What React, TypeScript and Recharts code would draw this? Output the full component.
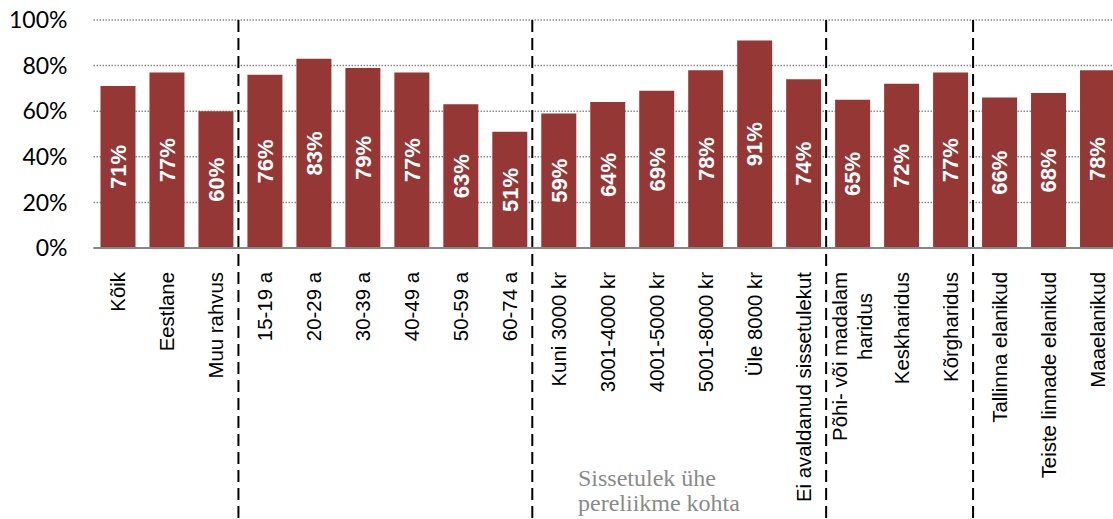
import { BarChart, Bar, XAxis, YAxis, CartesianGrid, ReferenceLine, LabelList } from "recharts";

const categories = [
  "Kõik",
  "Eestlane",
  "Muu rahvus",
  "15-19 a",
  "20-29 a",
  "30-39 a",
  "40-49 a",
  "50-59 a",
  "60-74 a",
  "Kuni 3000 kr",
  "3001-4000 kr",
  "4001-5000 kr",
  "5001-8000 kr",
  "Üle 8000 kr",
  "Ei avaldanud sissetulekut",
  "Põhi- või madalam\nharidus",
  "Keskharidus",
  "Kõrgharidus",
  "Tallinna elanikud",
  "Teiste linnade elanikud",
  "Maaelanikud",
];
const shares = [71, 77, 60, 76, 83, 79, 77, 63, 51, 59, 64, 69, 78, 91, 74, 65, 72, 77, 66, 68, 78];
// last category of each group, a dashed line follows it
const groupEnds = ["Muu rahvus", "60-74 a", "Ei avaldanud sissetulekut", "Kõrgharidus"];
const yTicks = [0, 20, 40, 60, 80, 100];
const noteLines = ["Sissetulek ühe", "pereliikme kohta"];

const data = categories.map((name, i) => ({ name, value: shares[i] }));

const CategoryTick = (props: any) => {
  const { x, y, payload } = props;
  const lines = String(payload.value).split("\n");
  const n = lines.length;
  return (
    <text
      transform={`translate(${x},${y + 24}) rotate(-90)`}
      textAnchor="end"
      fontFamily="'Liberation Sans', Arial, sans-serif"
      fontSize={20.4}
      fill="#000"
    >
      {lines.map((line, i) => (
        <tspan key={i} x={i === 0 ? 0 : -21} y={(i - (n - 1) / 2) * 25} dy="0.35em">
          {line}
        </tspan>
      ))}
    </text>
  );
};

const Separator = (p: any) => {
  const top = Math.min(p.y1, p.y2);
  const bottom = Math.max(p.y1, p.y2) + 280;
  return (
    <line
      x1={p.x1 - 2}
      x2={p.x2 - 2}
      y1={top}
      y2={bottom}
      stroke="#000"
      strokeWidth={2}
      strokeDasharray="12 6"
    />
  );
};

export default function App() {
  return (
    <div
      style={{
        position: "absolute",
        left: 0,
        top: 0,
        width: 1113,
        height: 519,
        overflow: "hidden",
        background: "#fff",
      }}
    >
      <BarChart
        width={1122}
        height={519}
        data={data}
        margin={{ top: 20, right: 0, left: 0, bottom: 21 }}
      >
        <CartesianGrid vertical={false} stroke="#8c8c8c" strokeWidth={1.5} strokeDasharray="1.5 1.5" />
        <XAxis
          dataKey="name"
          interval={0}
          height={250}
          tickLine={false}
          tickSize={0}
          tickMargin={0}
          axisLine={{ stroke: "#868686", strokeWidth: 2 }}
          tick={<CategoryTick />}
        />
        <YAxis
          width={93.5}
          domain={[0, 100]}
          ticks={yTicks}
          axisLine={false}
          tickLine={false}
          tickSize={0}
          tickMargin={26}
          tickFormatter={(v) => `${v}%`}
          tick={{ fill: "#000", fontSize: 23, fontFamily: "Lato, sans-serif" }}
        />
        {groupEnds.map((g) => (
          <ReferenceLine key={g} x={g} position="end" shape={<Separator />} />
        ))}
        <Bar dataKey="value" fill="#953735" barSize={35} isAnimationActive={false}>
          <LabelList
            dataKey="value"
            position="center"
            angle={-90}
            formatter={(v: any) => `${v}%`}
            fill="#fff"
            fontSize={22}
            fontWeight="bold"
            fontFamily="'Liberation Sans', Arial, sans-serif"
          />
        </Bar>
      </BarChart>
      <div
        style={{
          position: "absolute",
          left: 578,
          top: 466,
          fontFamily: "'Liberation Serif', 'Times New Roman', serif",
          fontSize: 24,
          lineHeight: "25px",
          color: "#8a8a8a",
          whiteSpace: "nowrap",
        }}
      >
        {noteLines.map((l) => (
          <div key={l}>{l}</div>
        ))}
      </div>
    </div>
  );
}
